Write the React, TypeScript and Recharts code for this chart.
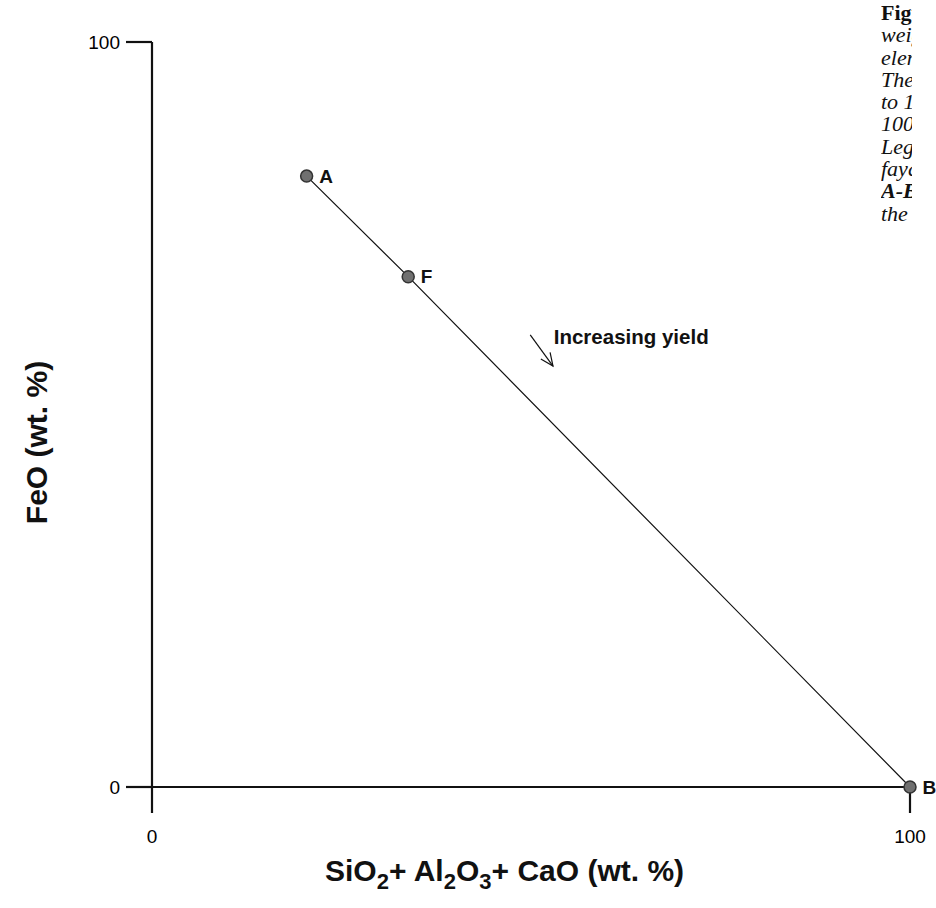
import { ScatterChart, Scatter, XAxis, YAxis, ReferenceLine, ReferenceDot, LabelList } from 'recharts';

// composition points
const pointLabels = ['A', 'F', 'B'];
const oxideSum = [20.4, 33.8, 100];
const feoPct = [82, 68.5, 0];

const xTicks = [0, 100];
const yTicks = [0, 100];

// "Increasing yield" arrow, in data units
const arrowFrom = { x: 49.9, y: 60.7 };
const arrowTo = { x: 52.9, y: 56.5 };
const notePos = { x: 53.0, y: 60.5 };

// caption column at the right edge (cut off in the original)
const captionHead = 'Figure 4.';
const captionLines = [
  'weight percentages of the major',
  'elements in the slag system.',
  'The oxide totals are normalised',
  'to 100 %, so FeO falls from',
  '100 % at A to 0 % at B.',
  'Legend: A = initial slag, F =',
  'fayalite composition, B = end.',
];
const captionTail = 'A-B';
const captionLast = 'the tie line between them.';

const SANS = 'Arial, "Liberation Sans", sans-serif';
const INK = '#111';

const data = oxideSum.map((x, i) => ({ x, y: feoPct[i], label: pointLabels[i] }));

const Dot = (p: any) => (
  <circle cx={p.cx} cy={p.cy} r={6} fill="#707070" stroke="#333" strokeWidth={1.5} />
);

const Arrow = (p: any) => {
  const { x1, y1, x2, y2 } = p;
  const ang = Math.atan2(y2 - y1, x2 - x1);
  const len = 14;
  const spread = 0.42;
  const a = [x2 - len * Math.cos(ang - spread), y2 - len * Math.sin(ang - spread)];
  const b = [x2 - len * Math.cos(ang + spread), y2 - len * Math.sin(ang + spread)];
  return (
    <g>
      <line x1={x1} y1={y1} x2={x2} y2={y2} stroke={INK} strokeWidth={1.2} />
      <polyline points={`${a[0]},${a[1]} ${x2},${y2} ${b[0]},${b[1]}`} fill="none" stroke={INK} strokeWidth={1.2} />
    </g>
  );
};

const XTitle = (p: any) => {
  const vb = p.viewBox;
  return (
    <text x={vb.x + 173} y={vb.y + 94} fontFamily={SANS} fontSize={30} fontWeight="bold" fill={INK}>
      SiO<tspan dy={8} fontSize={22}>2</tspan>
      <tspan dy={-8}>+ Al</tspan>
      <tspan dy={8} fontSize={22}>2</tspan>
      <tspan dy={-8}>O</tspan>
      <tspan dy={8} fontSize={22}>3</tspan>
      <tspan dy={-8}>+ CaO (wt. %)</tspan>
    </text>
  );
};

const YTitle = (p: any) => {
  const vb = p.viewBox;
  const cx = vb.x - 16;
  const cy = vb.y + vb.height / 2 + 28;
  return (
    <text
      x={cx}
      y={cy}
      transform={`rotate(-90, ${cx}, ${cy})`}
      textAnchor="middle"
      dominantBaseline="central"
      fontFamily={SANS}
      fontSize={30}
      fontWeight="bold"
      fill={INK}
    >
      FeO (wt. %)
    </text>
  );
};

export default function App() {
  return (
    <div style={{ position: 'absolute', left: 0, top: 0, width: 936, height: 908, overflow: 'hidden', background: '#fff' }}>
      <ScatterChart width={936} height={908} margin={{ top: 42, right: 26, bottom: 41, left: 52 }}>
        <XAxis
          type="number"
          dataKey="x"
          domain={[0, 100]}
          ticks={xTicks}
          tickSize={26}
          tickMargin={17}
          height={80}
          axisLine={{ stroke: INK, strokeWidth: 2.2 }}
          tickLine={{ stroke: INK, strokeWidth: 2.2 }}
          tick={{ fill: '#000', fontSize: 19, fontFamily: SANS }}
          label={{ content: XTitle }}
        />
        <YAxis
          type="number"
          dataKey="y"
          domain={[0, 100]}
          ticks={yTicks}
          tickSize={26}
          tickMargin={6}
          width={100}
          axisLine={{ stroke: INK, strokeWidth: 2.2 }}
          tickLine={{ stroke: INK, strokeWidth: 2.2 }}
          tick={{ fill: '#000', fontSize: 19, fontFamily: SANS }}
          label={{ content: YTitle }}
        />
        <ReferenceLine segment={[arrowFrom, arrowTo]} shape={Arrow} />
        <ReferenceDot
          x={notePos.x}
          y={notePos.y}
          r={0}
          fill="none"
          stroke="none"
          label={{
            value: 'Increasing yield',
            position: 'right',
            offset: 0,
            style: { fontFamily: SANS, fontSize: 20.5, fontWeight: 'bold', fill: INK },
          }}
        />
        <Scatter
          data={data}
          shape={Dot}
          line={{ stroke: INK, strokeWidth: 1.2 }}
          isAnimationActive={false}
        >
          <LabelList
            dataKey="label"
            position="right"
            offset={8}
            style={{ fontFamily: SANS, fontSize: 19, fontWeight: 'bold', fill: INK }}
          />
        </Scatter>
      </ScatterChart>
      <div
        style={{
          position: 'absolute',
          left: 881,
          top: 2,
          width: 31,
          overflow: 'hidden',
          fontFamily: '"Liberation Serif", "Times New Roman", serif',
          fontSize: 22,
          lineHeight: '22.3px',
          color: INK,
          whiteSpace: 'nowrap',
        }}
      >
        <div style={{ fontWeight: 'bold' }}>{captionHead}</div>
        {captionLines.map((t) => (
          <div key={t} style={{ fontStyle: 'italic' }}>{t}</div>
        ))}
        <div style={{ fontStyle: 'italic', fontWeight: 'bold' }}>{captionTail}</div>
        <div style={{ fontStyle: 'italic' }}>{captionLast}</div>
      </div>
    </div>
  );
}
